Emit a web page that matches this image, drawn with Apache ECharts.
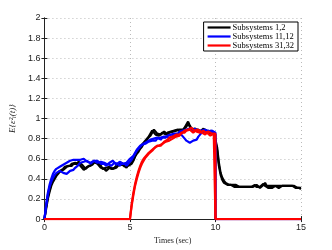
<!DOCTYPE html>
<html><head><meta charset="utf-8">
<script src="https://cdn.jsdelivr.net/npm/echarts@6/dist/echarts.min.js"></script>
<style>html,body{margin:0;padding:0;background:#fff}#c{width:332px;height:250px}</style>
</head><body><div id="c"></div>
<script>
// sampling: one value every 0.1 s starting at each array's start time
const sampleStep = 0.1;
const xTicks = [0, 5, 10, 15];
const legendNames = ['Subsystems 1,2', 'Subsystems 11,12', 'Subsystems 31,32'];

// Subsystems 1,2 (t = 0 .. 15)
const black1 = [0,0.12,0.22,0.29,0.35,0.39,0.42,0.44,0.46,0.48,0.49,
 0.50,0.52,0.51,0.53,0.54,0.53,0.55,0.56,0.55,0.57,
 0.56,0.54,0.52,0.50,0.51,0.53,0.52,0.54,0.56,0.55,
 0.57,0.56,0.53,0.50,0.49,0.51,0.50,0.52,0.50,0.49,
 0.51,0.53,0.55,0.54,0.56,0.54,0.52,0.55,0.53,0.52,
 0.55,0.58,0.62,0.65,0.67,0.70,0.72,0.75,0.77,0.79,
 0.82,0.85,0.88,0.86,0.84,0.85,0.83,0.84,0.86,0.85,
 0.84,0.86,0.85,0.87,0.86,0.88,0.87,0.89,0.88,0.86,
 0.88,0.91,0.94,0.97,0.93,0.90,0.91,0.89,0.88,0.89,
 0.87,0.88,0.90,0.88,0.87,0.86,0.88,0.87,0.86,0.85,
 0.68,0.53,0.44,0.39,0.36,0.35,0.34,0.33,0.34,0.33,
 0.32,0.33,0.32,0.31,0.32,0.33,0.32,0.31,0.32,0.33,
 0.32,0.33,0.34,0.32,0.31,0.32,0.33,0.35,0.33,0.32,
 0.31,0.32,0.31,0.32,0.33,0.32,0.31,0.32,0.33,0.34,
 0.33,0.32,0.33,0.34,0.33,0.32,0.31,0.32,0.31,0.30];
const black2 = [0,0.10,0.20,0.27,0.33,0.37,0.40,0.43,0.45,0.47,0.48,
 0.49,0.50,0.52,0.51,0.53,0.55,0.54,0.56,0.57,0.55,
 0.53,0.51,0.49,0.50,0.52,0.51,0.53,0.55,0.57,0.56,
 0.55,0.53,0.51,0.52,0.50,0.48,0.49,0.51,0.52,0.50,
 0.49,0.51,0.53,0.52,0.54,0.55,0.53,0.51,0.54,0.53,
 0.56,0.59,0.63,0.66,0.69,0.71,0.74,0.76,0.78,0.80,
 0.81,0.83,0.86,0.89,0.87,0.85,0.86,0.84,0.85,0.87,
 0.86,0.84,0.86,0.85,0.87,0.86,0.88,0.87,0.89,0.88,
 0.89,0.90,0.92,0.95,0.92,0.89,0.88,0.90,0.89,0.87,
 0.88,0.86,0.87,0.89,0.88,0.87,0.85,0.86,0.87,0.86,
 0.71,0.56,0.46,0.41,0.38,0.36,0.35,0.34,0.33,0.34,
 0.33,0.34,0.33,0.32,0.33,0.32,0.33,0.32,0.33,0.32,
 0.33,0.32,0.33,0.34,0.33,0.31,0.32,0.34,0.36,0.33,
 0.32,0.33,0.32,0.33,0.32,0.33,0.32,0.33,0.32,0.33,
 0.34,0.33,0.32,0.33,0.34,0.33,0.32,0.31,0.32,0.31];

// Subsystems 11,12 (t = 0 .. 10), then zero
const blue1 = [0,0.14,0.26,0.34,0.40,0.45,0.48,0.50,0.51,0.52,0.53,
 0.54,0.55,0.56,0.57,0.58,0.57,0.59,0.58,0.59,0.60,
 0.59,0.58,0.60,0.59,0.57,0.58,0.56,0.57,0.58,0.57,
 0.56,0.55,0.57,0.58,0.56,0.55,0.54,0.56,0.57,0.58,
 0.56,0.54,0.55,0.57,0.56,0.55,0.54,0.56,0.58,0.60,
 0.61,0.63,0.66,0.69,0.71,0.73,0.74,0.75,0.76,0.77,
 0.78,0.79,0.78,0.80,0.79,0.81,0.80,0.79,0.81,0.82,
 0.81,0.83,0.82,0.84,0.83,0.85,0.86,0.85,0.87,0.86,
 0.88,0.87,0.89,0.88,0.90,0.89,0.88,0.90,0.89,0.88,
 0.89,0.88,0.87,0.89,0.88,0.87,0.86,0.88,0.87,0.86];
const blue2 = [0,0.13,0.24,0.32,0.37,0.41,0.44,0.46,0.47,0.48,0.47,
 0.46,0.47,0.45,0.46,0.48,0.47,0.49,0.51,0.52,0.54,
 0.56,0.55,0.57,0.56,0.58,0.57,0.55,0.56,0.58,0.57,
 0.58,0.57,0.55,0.54,0.55,0.53,0.55,0.54,0.53,0.54,
 0.56,0.57,0.55,0.53,0.55,0.54,0.55,0.53,0.55,0.57,
 0.59,0.62,0.65,0.68,0.70,0.72,0.74,0.73,0.75,0.76,
 0.77,0.76,0.78,0.79,0.78,0.80,0.79,0.81,0.80,0.82,
 0.81,0.82,0.80,0.82,0.81,0.83,0.82,0.84,0.83,0.84,
 0.82,0.80,0.78,0.77,0.76,0.77,0.78,0.77,0.79,0.82,
 0.84,0.86,0.85,0.87,0.86,0.88,0.87,0.86,0.85,0.84];
const blueTail = [[10,0],[15,0]];

// Subsystems 31,32: zero until 5, values for t = 5 .. 10, then zero
const redHead = [[0,0],[5,0]];
const red1 = [0,0.15,0.26,0.35,0.42,0.48,0.53,0.57,0.60,0.62,0.64,
 0.66,0.67,0.69,0.70,0.72,0.71,0.73,0.74,0.75,0.76,
 0.77,0.76,0.78,0.79,0.80,0.81,0.82,0.81,0.83,0.85,
 0.86,0.88,0.87,0.89,0.90,0.91,0.89,0.88,0.87,0.88,
 0.86,0.87,0.88,0.86,0.85,0.87,0.86,0.85,0.84,0.85];
const red2 = [0,0.13,0.24,0.33,0.40,0.46,0.51,0.55,0.58,0.61,0.63,
 0.65,0.66,0.68,0.70,0.71,0.73,0.74,0.73,0.75,0.77,
 0.78,0.79,0.81,0.80,0.82,0.83,0.84,0.85,0.84,0.86,
 0.87,0.86,0.88,0.87,0.89,0.88,0.86,0.87,0.89,0.90,
 0.88,0.86,0.85,0.84,0.86,0.85,0.83,0.84,0.85,0.84];
const redTail = [[10,0],[15,0]];

function pairs(start, vals) {
  return vals.map((v, i) => [Math.round((start + i * sampleStep) * 10) / 10, v]);
}

const colors = ['#000000', '#0000ff', '#ff0000'];
function line(name, color, data) {
  return { name, type: 'line', data, symbol: 'none', showSymbol: false,
    lineStyle: { color, width: 2.2 }, itemStyle: { color }, animation: false,
    xAxisIndex: 0, yAxisIndex: 0 };
}

const series = [
  line(legendNames[0], colors[0], pairs(0, black1)),
  line(legendNames[0], colors[0], pairs(0, black2)),
  line(legendNames[1], colors[1], pairs(0, blue1).concat(blueTail)),
  line(legendNames[1], colors[1], pairs(0, blue2).concat(blueTail)),
  line(legendNames[2], colors[2], redHead.concat(pairs(5, red1)).concat(redTail)),
  line(legendNames[2], colors[2], redHead.concat(pairs(5, red2)).concat(redTail))
];

const frame = '#222';
const serif = "'Liberation Serif', 'Times New Roman', serif";
const lblFont = { fontFamily: "'Liberation Sans', Arial, sans-serif", fontSize: 9, color: '#222' };
const chart = echarts.init(document.getElementById('c'), null, { renderer: 'canvas' });
chart.setOption({
  backgroundColor: '#fff',
  animation: false,
  grid: { left: 43, right: 31, top: 18, bottom: 28, containLabel: false },
  legend: {
    data: legendNames.map(n => ({ name: n, icon: 'rect' })), orient: 'vertical', right: 34, top: 22,
    backgroundColor: '#fff', borderColor: '#000', borderWidth: 1, borderRadius: 0,
    padding: [1, 4, 1, 4], itemGap: 0, itemWidth: 23, itemHeight: 2.2,
    itemStyle: { borderWidth: 0 },
    textStyle: { fontFamily: serif, fontSize: 8.5, lineHeight: 8.6, color: '#000', padding: [0, 0, 0, -3] },
    selectedMode: false
  },
  xAxis: [
    { type: 'value', min: 0, max: 15, interval: 5,
      name: 'Times (sec)', nameLocation: 'middle', nameGap: 17,
      nameTextStyle: { fontFamily: serif, fontSize: 8, color: '#222' },
      axisLine: { show: true, lineStyle: { color: frame, width: 1 } },
      axisTick: { show: true, inside: true, length: 3, lineStyle: { color: frame } },
      axisLabel: Object.assign({ margin: 4 }, lblFont),
      splitLine: { show: true, lineStyle: { color: '#bbb', type: [1, 3], width: 1 } } },
    { type: 'value', min: 0, max: 15, interval: 5, position: 'top',
      axisLine: { show: true, lineStyle: { color: frame, width: 1 } },
      axisTick: { show: true, inside: true, length: 3, lineStyle: { color: frame } },
      axisLabel: { show: false }, splitLine: { show: false } }
  ],
  yAxis: [
    { type: 'value', min: 0, max: 2, interval: 0.2,
      name: 'E{ε\u00B2\u1D62(t)}', nameLocation: 'middle', nameGap: 23,
      nameTextStyle: { fontFamily: serif, fontStyle: 'italic', fontSize: 9, color: '#222' },
      axisLine: { show: true, lineStyle: { color: frame, width: 1 } },
      axisTick: { show: true, inside: true, length: 3, lineStyle: { color: frame } },
      axisLabel: Object.assign({ margin: 4, formatter: v => String(Math.round(v * 10) / 10) }, lblFont),
      splitLine: { show: true, lineStyle: { color: '#bbb', type: [1, 3], width: 1 } } },
    { type: 'value', min: 0, max: 2, interval: 0.2, position: 'right',
      axisLine: { show: true, lineStyle: { color: frame, width: 1 } },
      axisTick: { show: true, inside: true, length: 3, lineStyle: { color: frame } },
      axisLabel: { show: false }, splitLine: { show: false } }
  ],
  series
});
</script></body></html>
